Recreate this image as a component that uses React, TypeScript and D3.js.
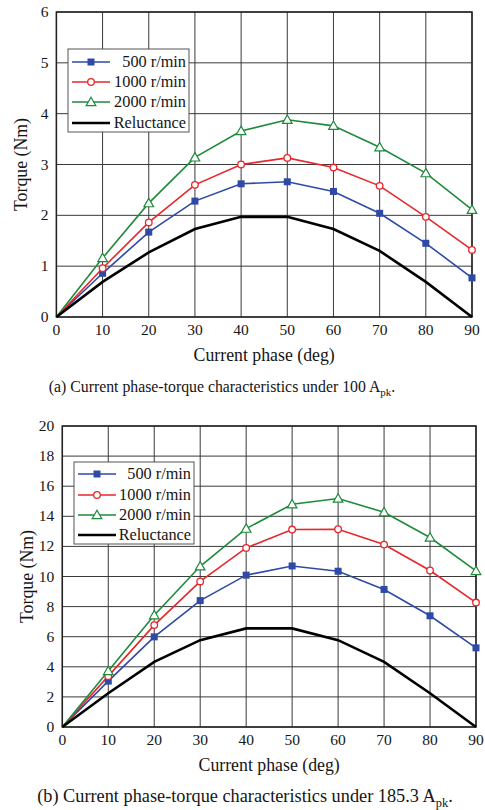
import React from "react";
import * as d3 from "d3";

const phases = [0, 10, 20, 30, 40, 50, 60, 70, 80, 90];
const seriesNames = ["500 r/min", "1000 r/min", "2000 r/min", "Reluctance"];

const a500 = [0, 0.86, 1.67, 2.28, 2.62, 2.66, 2.47, 2.04, 1.45, 0.77];
const a1000 = [0, 0.96, 1.86, 2.6, 3.0, 3.13, 2.94, 2.58, 1.97, 1.32];
const a2000 = [0, 1.16, 2.24, 3.14, 3.66, 3.88, 3.76, 3.34, 2.83, 2.11];
const aRel = [0, 0.69, 1.27, 1.73, 1.97, 1.97, 1.73, 1.3, 0.69, 0];

const b500 = [0, 3.05, 5.99, 8.4, 10.09, 10.7, 10.35, 9.14, 7.39, 5.26];
const b1000 = [0, 3.38, 6.77, 9.67, 11.9, 13.12, 13.14, 12.12, 10.4, 8.27];
const b2000 = [0, 3.72, 7.43, 10.68, 13.18, 14.8, 15.18, 14.27, 12.59, 10.37];
const bRel = [0, 2.24, 4.33, 5.77, 6.55, 6.55, 5.77, 4.33, 2.24, 0];

const xTicks = [0, 10, 20, 30, 40, 50, 60, 70, 80, 90];
const aYTicks = [0, 1, 2, 3, 4, 5, 6];
const bYTicks = [0, 2, 4, 6, 8, 10, 12, 14, 16, 18, 20];

const COLORS = ["#2f4aa6", "#e8262b", "#1f8a3c", "#000000"];
const FONT = "'Liberation Serif', 'Times New Roman', serif";
const TEXT = "#151515";

type Layout = {
  left: number; right: number; top: number; bottom: number;
  yMax: number; yTicks: number[];
  legend: { x: number; y: number; w: number; h: number; rows: number[] };
};

function Marker({ kind, x, y, color }: { kind: number; x: number; y: number; color: string }) {
  if (kind === 0) return <rect x={x - 3.5} y={y - 3.5} width={7} height={7} fill={color} />;
  if (kind === 1) return <circle cx={x} cy={y} r={3.3} fill="#fff" stroke={color} strokeWidth={1.3} />;
  if (kind === 2) {
    const s = 4.8;
    return (
      <path
        d={`M${x},${y - s} L${x + s},${y + s * 0.75} L${x - s},${y + s * 0.75} Z`}
        fill="#fff" stroke={color} strokeWidth={1.2}
      />
    );
  }
  return null;
}

function Chart({ L, data }: { L: Layout; data: number[][] }) {
  const x = d3.scaleLinear().domain([0, 90]).range([L.left, L.right]);
  const y = d3.scaleLinear().domain([0, L.yMax]).range([L.bottom, L.top]);
  const line = d3.line<number>().x((_, i) => x(phases[i])).y((v) => y(v));
  return (
    <g fontFamily={FONT}>
      {xTicks.map((t) => (
        <line key={"gx" + t} x1={x(t)} x2={x(t)} y1={L.top} y2={L.bottom} stroke="#3a3a3a" strokeWidth={1} />
      ))}
      {L.yTicks.map((t) => (
        <line key={"gy" + t} x1={L.left} x2={L.right} y1={y(t)} y2={y(t)} stroke="#3a3a3a" strokeWidth={1} />
      ))}
      <rect x={L.left} y={L.top} width={L.right - L.left} height={L.bottom - L.top} fill="none" stroke="#222" strokeWidth={1.5} />
      {xTicks.map((t) => (
        <text key={"tx" + t} x={x(t)} y={L.bottom + 18} textAnchor="middle" fontSize={15.5} fill={TEXT}>{t}</text>
      ))}
      {L.yTicks.map((t) => (
        <text key={"ty" + t} x={L.left - 8} y={y(t) + 5} textAnchor="end" fontSize={15.5} fill={TEXT}>{t}</text>
      ))}
      <text x={(L.left + L.right) / 2} y={L.bottom + 44} textAnchor="middle" fontSize={17.8} fill={TEXT}>Current phase (deg)</text>
      <text transform={`translate(${L.left - 29},${(L.top + L.bottom) / 2}) rotate(-90)`} textAnchor="middle" fontSize={17.8} fill={TEXT}>Torque (Nm)</text>
      {data.map((s, k) => (
        <path key={"l" + k} d={line(s) || ""} fill="none" stroke={COLORS[k]} strokeWidth={k === 3 ? 2.6 : 1.6} />
      ))}
      {data.map((s, k) =>
        k < 3 ? s.map((v, i) => (i === 0 ? null : <Marker key={`m${k}-${i}`} kind={k} x={x(phases[i])} y={y(v)} color={COLORS[k]} />)) : null
      )}
      <rect x={L.legend.x} y={L.legend.y} width={L.legend.w} height={L.legend.h} fill="#fff" stroke="#555" strokeWidth={1} />
      {seriesNames.map((n, k) => {
        const ry = L.legend.rows[k];
        const lx1 = L.legend.x + 4, lx2 = L.legend.x + 42;
        return (
          <g key={"lg" + k}>
            <line x1={lx1} x2={lx2} y1={ry} y2={ry} stroke={COLORS[k]} strokeWidth={k === 3 ? 2.6 : 1.6} />
            <Marker kind={k} x={(lx1 + lx2) / 2} y={ry} color={COLORS[k]} />
            <text x={L.legend.x + L.legend.w - 3} y={ry + 5} textAnchor="end" fontSize={16.3} fill={TEXT}>{n}</text>
          </g>
        );
      })}
    </g>
  );
}

const layoutA: Layout = {
  left: 56.4, right: 472, top: 12, bottom: 317, yMax: 6, yTicks: aYTicks,
  legend: { x: 68, y: 49, w: 121, h: 83, rows: [62, 82, 102, 123] },
};
const layoutB: Layout = {
  left: 62.3, right: 476, top: 426, bottom: 727, yMax: 20, yTicks: bYTicks,
  legend: { x: 74, y: 462, w: 120, h: 82, rows: [474, 495, 515, 535] },
};

export default function App() {
  return (
    <svg width={485} height={810} style={{ position: "absolute", left: 0, top: 0, background: "#fff" }}>
      <rect width={485} height={810} fill="#fff" />
      <Chart L={layoutA} data={[a500, a1000, a2000, aRel]} />
      <Chart L={layoutB} data={[b500, b1000, b2000, bRel]} />
      <text x={222} y={392} textAnchor="middle" fontSize={15.8} fontFamily={FONT} fill={TEXT}>
        (a) Current phase-torque characteristics under 100 A<tspan fontSize={11} dy={4}>pk</tspan><tspan dy={-4}>.</tspan>
      </text>
      <text x={245} y={802} textAnchor="middle" fontSize={18.3} fontFamily={FONT} fill={TEXT}>
        (b) Current phase-torque characteristics under 185.3 A<tspan fontSize={12.5} dy={4.5}>pk</tspan><tspan dy={-4.5}>.</tspan>
      </text>
    </svg>
  );
}
